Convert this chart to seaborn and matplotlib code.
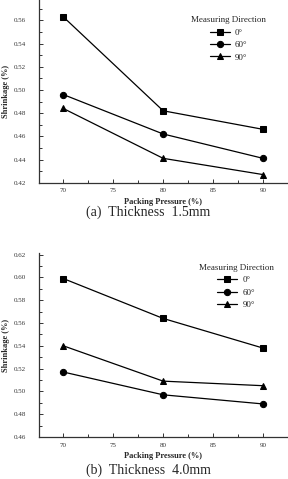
import matplotlib
matplotlib.use("Agg")
import matplotlib.pyplot as plt
import seaborn as sns
import pandas as pd
from matplotlib.ticker import MultipleLocator

sns.set_style("ticks")
plt.rcParams['font.family'] = ['Liberation Serif', 'DejaVu Serif']

pressure = [70, 80, 90]
directions = ["0°", "60°", "90°"]
a_0 = [0.563, 0.482, 0.466]
a_60 = [0.496, 0.462, 0.441]
a_90 = [0.484, 0.441, 0.427]
b_0 = [0.599, 0.564, 0.538]
b_60 = [0.517, 0.497, 0.489]
b_90 = [0.540, 0.509, 0.505]

def frame(s0, s60, s90):
    rows = []
    for d, vals in zip(directions, [s0, s60, s90]):
        for p, v in zip(pressure, vals):
            rows.append({"Pressure": p, "Shrinkage": v, "Direction": d})
    return pd.DataFrame(rows)

W, H = 288, 479
fig = plt.figure(figsize=(W / 100, H / 100), dpi=100)

def px_axes(left, top, right, bottom):
    return fig.add_axes([left / W, 1 - bottom / H, (right - left) / W, (bottom - top) / H])

ax1 = px_axes(38.7, 0, 288, 182.7)
ax2 = px_axes(38.7, 253, 288, 437)

specs = [
    (ax1, frame(a_0, a_60, a_90), (0.42, 0.5775), "(a)  Thickness  1.5mm", 212.5, (0.93, 0.935)),
    (ax2, frame(b_0, b_60, b_90), (0.46, 0.6214), "(b)  Thickness  4.0mm", 470, (0.96, 0.965)),
]

for ax, df, ylim, cap, capy, anchor in specs:
    sns.lineplot(data=df, x="Pressure", y="Shrinkage", hue="Direction", style="Direction",
                 markers=["s", "o", "^"], dashes=False, palette=["black"] * 3,
                 markersize=4.5, markeredgecolor="black", linewidth=0.9, ax=ax)
    ax.set_xlim(67.54, 92.5)
    ax.set_ylim(*ylim)
    ax.xaxis.set_major_locator(MultipleLocator(5))
    ax.xaxis.set_minor_locator(MultipleLocator(2.5))
    ax.yaxis.set_major_locator(MultipleLocator(0.02))
    ax.yaxis.set_minor_locator(MultipleLocator(0.01))
    ax.tick_params(which="both", direction="in", colors="#333333", labelsize=5, width=0.7)
    ax.tick_params(which="major", length=3)
    ax.tick_params(which="minor", length=2)
    ax.tick_params(axis="y", which="major", pad=9)
    ax.tick_params(axis="x", which="major", pad=4)
    ax.set_yticks([t for t in ax.get_yticks() if ylim[0] - 1e-9 <= t <= ylim[1] + 1e-9])
    ax.yaxis.set_major_formatter(matplotlib.ticker.FormatStrFormatter("%.2f"))
    for s in ["top", "right"]:
        ax.spines[s].set_visible(False)
    for s in ["left", "bottom"]:
        ax.spines[s].set_linewidth(0.9)
        ax.spines[s].set_color("#333333")
    ax.set_xlabel("Packing Pressure (%)", fontsize=6, fontweight="bold", labelpad=3.5)
    ax.set_ylabel("Shrinkage (%)", fontsize=6, fontweight="bold", labelpad=3)
    ax.patch.set_alpha(0)
    ax.legend(title="Measuring Direction", loc="upper right", frameon=False,
              fontsize=6.5, title_fontsize=6.5, handlelength=2.2, handletextpad=0.6,
              labelspacing=0.45, borderpad=0, bbox_to_anchor=anchor)
    fig.text(148 / W, 1 - capy / H, cap, ha="center", va="center", fontsize=10)

fig.savefig("out.png", dpi=100)
